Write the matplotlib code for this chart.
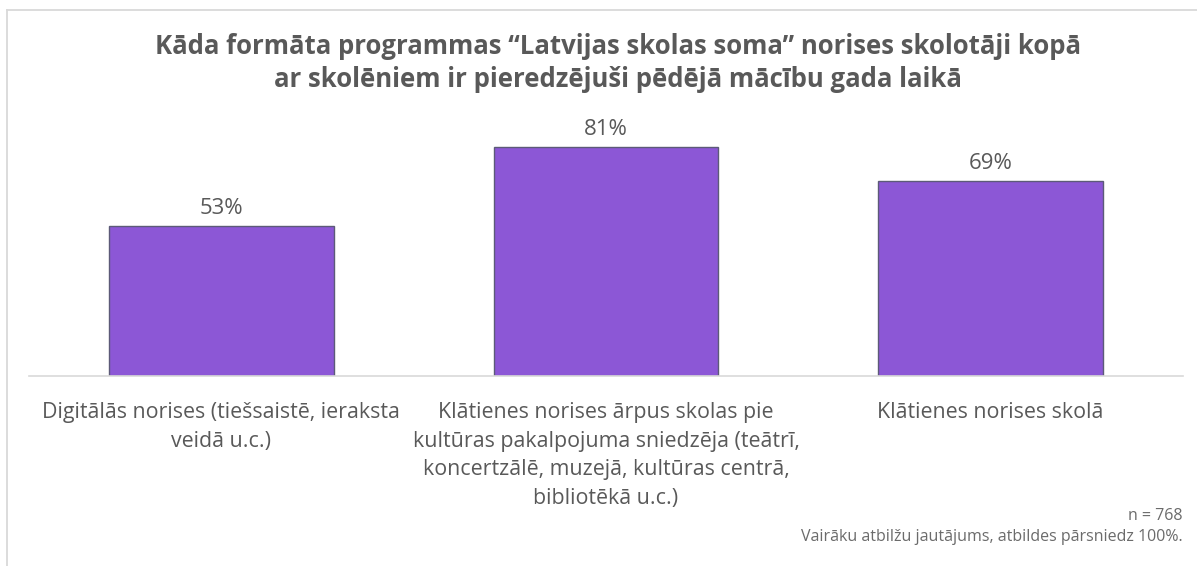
import matplotlib
matplotlib.use("Agg")
import matplotlib.pyplot as plt
from matplotlib.lines import Line2D

categories = [
    "Digitālās norises (tiešsaistē, ieraksta\nveidā u.c.)",
    "Klātienes norises ārpus skolas pie\nkultūras pakalpojuma sniedzēja (teātrī,\nkoncertzālē, muzejā, kultūras centrā,\nbibliotēkā u.c.)",
    "Klātienes norises skolā",
]
values = [53, 81, 69]
value_labels = ["53%", "81%", "69%"]
title = "Kāda formāta programmas “Latvijas skolas soma” norises skolotāji kopā\nar skolēniem ir pieredzējuši pēdējā mācību gada laikā"
note1 = "n = 768"
note2 = "Vairāku atbilžu jautājums, atbildes pārsniedz 100%."

plt.rcParams['font.family'] = ['Open Sans', 'DejaVu Sans']
W, H = 1197, 566
fig = plt.figure(figsize=(W/100, H/100), dpi=100)
txt = "#595959"

left = 29/W; right = 1183/W
bottom = 1 - 376/H
height = 283/H
ax = fig.add_axes([left, bottom, right-left, height])
x = list(range(len(categories)))
ax.bar(x, values, width=0.584, color="#8c57d6", edgecolor="#5c5a78", linewidth=1.0, zorder=2)
ax.set_xlim(-0.5, 2.5)
ax.set_ylim(0, 100)
for s in ["top", "right", "left"]:
    ax.spines[s].set_visible(False)
ax.spines["bottom"].set_color("#d9d9d9")
ax.spines["bottom"].set_linewidth(1.2)
ax.set_yticks([])
ax.set_xticks(x)
ax.set_xticklabels(categories, fontsize=15.4, color=txt, linespacing=1.47, va="top")
ax.tick_params(axis="x", length=0, pad=19)
for xi, v, lab in zip(x, values, value_labels):
    ax.annotate(lab, (xi, v), xytext=(0, 5), textcoords="offset points",
                ha="center", va="bottom", fontsize=16, color=txt)

fig.text(618/W, 1 - 63/H, title, ha="center", va="center", fontsize=18.5,
         fontweight="bold", color=txt, linespacing=1.25)
fig.text(1183/W, 1 - 516/H, note1, ha="right", va="center", fontsize=11.5, color="#6b6b6b")
fig.text(1183/W, 1 - 537/H, note2, ha="right", va="center", fontsize=11.5, color="#6b6b6b")

fig.add_artist(Line2D([7/W, 7/W], [0, 1 - 10/H], transform=fig.transFigure, color="#d9d9d9", lw=1.3))
fig.add_artist(Line2D([7/W, 1], [1 - 10/H, 1 - 10/H], transform=fig.transFigure, color="#d9d9d9", lw=1.3))

fig.savefig("out.png", dpi=100)
